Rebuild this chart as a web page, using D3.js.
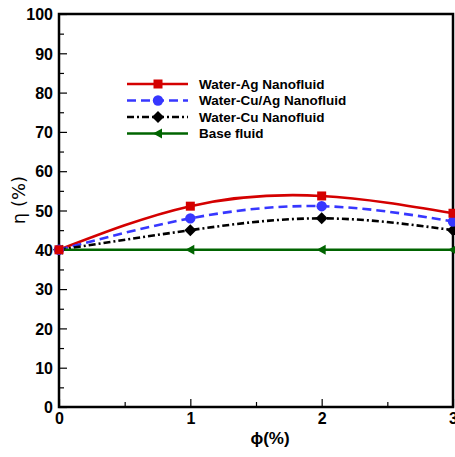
<!DOCTYPE html>
<html>
<head>
<meta charset="utf-8">
<script src="https://cdn.jsdelivr.net/npm/d3@7"></script>
<style>
  body { margin: 0; background: #fff; }
  svg { display: block; }
  text { font-family: "Liberation Sans", Arial, sans-serif; font-weight: bold; fill: #000; }
</style>
</head>
<body>
<div id="chart"></div>
<script>
// data
var phi = [0, 1, 2, 3];
var agValues = [40, 51.1, 53.7, 49.3];
var cuAgValues = [40, 48.0, 51.1, 47.2];
var cuValues = [40, 45.0, 48.0, 45.0];
var baseValues = [40, 40, 40, 40];
var seriesNames = ['Water-Ag Nanofluid', 'Water-Cu/Ag Nanofluid', 'Water-Cu Nanofluid', 'Base fluid'];
var yTicks = [0, 10, 20, 30, 40, 50, 60, 70, 80, 90, 100];
var xTicks = [0, 1, 2, 3];

var size = { w: 455, h: 457 };
var m = { l: 59, r: 2, t: 14, b: 50 };

var svg = d3.select('#chart').append('svg')
  .attr('width', size.w)
  .attr('height', size.h);

var x = d3.scaleLinear().domain([0, 3]).range([m.l, size.w - m.r]);
var y = d3.scaleLinear().domain([0, 100]).range([size.h - m.b, m.t]);

var series = [
  { name: seriesNames[0], values: agValues, color: '#d40000', dash: null, marker: 'square', curve: d3.curveNatural },
  { name: seriesNames[1], values: cuAgValues, color: '#3737ff', dash: '9,5', marker: 'circle', curve: d3.curveNatural },
  { name: seriesNames[2], values: cuValues, color: '#000', dash: '7,3,2,3', marker: 'diamond', curve: d3.curveNatural },
  { name: seriesNames[3], values: baseValues, color: '#006400', dash: null, marker: 'triangle', curve: d3.curveLinear }
];

// marker shapes
function drawMarker(g, type, cx, cy, color) {
  if(type == 'square') {
    g.append('rect').attr('x', cx - 4.5).attr('y', cy - 4.5).attr('width', 9).attr('height', 9).attr('fill', color);
  }
  else if(type == 'circle') {
    g.append('circle').attr('cx', cx).attr('cy', cy).attr('r', 5.2).attr('fill', color);
  }
  else if(type == 'diamond') {
    g.append('path').attr('d', 'M' + cx + ',' + (cy - 6) + 'L' + (cx + 6) + ',' + cy + 'L' + cx + ',' + (cy + 6) + 'L' + (cx - 6) + ',' + cy + 'Z').attr('fill', color);
  }
  else if(type == 'triangle') {
    g.append('path').attr('d', 'M' + (cx - 5) + ',' + cy + 'L' + (cx + 4) + ',' + (cy - 5) + 'L' + (cx + 4) + ',' + (cy + 5) + 'Z').attr('fill', color);
  }
}

// axes: inward ticks on left and bottom
var yAxis = d3.axisLeft(y).tickValues(yTicks).tickSize(-8).tickPadding(6).tickFormat(d3.format('d'));
var yMinor = d3.axisLeft(y).tickValues(d3.range(5, 100, 10)).tickSize(-5).tickFormat('');
var xAxis = d3.axisBottom(x).tickValues(xTicks).tickSize(-8).tickPadding(6).tickFormat(d3.format('d'));
var xMinor = d3.axisBottom(x).tickValues([0.5, 1.5, 2.5]).tickSize(-5).tickFormat('');

function styleAxis(g) {
  g.select('.domain').remove();
  g.selectAll('line').attr('stroke', '#000').attr('stroke-width', 1.2);
  g.selectAll('text').style('font-size', '16px').attr('fill', '#000');
}

svg.append('g').attr('transform', 'translate(' + m.l + ',0)').call(yMinor).call(styleAxis);
svg.append('g').attr('transform', 'translate(' + m.l + ',0)').call(yAxis).call(styleAxis)
  .selectAll('text').attr('dy', '0.36em');
svg.append('g').attr('transform', 'translate(0,' + y(0) + ')').call(xMinor).call(styleAxis);
svg.append('g').attr('transform', 'translate(0,' + y(0) + ')').call(xAxis).call(styleAxis);

// frame
svg.append('rect')
  .attr('x', x(0)).attr('y', y(100))
  .attr('width', x(3) - x(0)).attr('height', y(0) - y(100))
  .attr('fill', 'none').attr('stroke', '#000').attr('stroke-width', 2.5);

// axis titles
svg.append('text')
  .attr('transform', 'translate(25,' + 200 + ') rotate(-90)')
  .attr('text-anchor', 'middle')
  .style('font-size', '18px')
  .style('font-family', '"DejaVu Sans", sans-serif')
  .style('font-weight', 'normal')
  .text('η (%)');
svg.append('text')
  .attr('x', 270).attr('y', 444)
  .attr('text-anchor', 'middle')
  .style('font-size', '17px')
  .text('ϕ(%)');

// curves
series.forEach(function(s) {
  var pts = phi.map(function(p, i) { return [p, s.values[i]]; });
  var line = d3.line()
    .x(function(d) { return x(d[0]); })
    .y(function(d) { return y(d[1]); })
    .curve(s.curve);
  svg.append('path')
    .attr('d', line(pts))
    .attr('fill', 'none')
    .attr('stroke', s.color)
    .attr('stroke-width', 2.6)
    .attr('stroke-dasharray', s.dash);
});

// markers on top
series.slice().reverse().forEach(function(s) {
  var g = svg.append('g');
  phi.forEach(function(p, i) {
    drawMarker(g, s.marker, x(p), y(s.values[i]), s.color);
  });
});

// legend
var legend = svg.append('g').attr('transform', 'translate(127,84)');
series.forEach(function(s, i) {
  var row = legend.append('g').attr('transform', 'translate(0,' + i * 16.5 + ')');
  row.append('line')
    .attr('x1', 0).attr('x2', 61)
    .attr('stroke', s.color)
    .attr('stroke-width', 2.6)
    .attr('stroke-dasharray', s.dash);
  drawMarker(row, s.marker, 31, 0, s.color);
  row.append('text')
    .attr('x', 72).attr('dy', '0.36em')
    .style('font-size', '13.5px')
    .text(s.name);
});
</script>
</body>
</html>
